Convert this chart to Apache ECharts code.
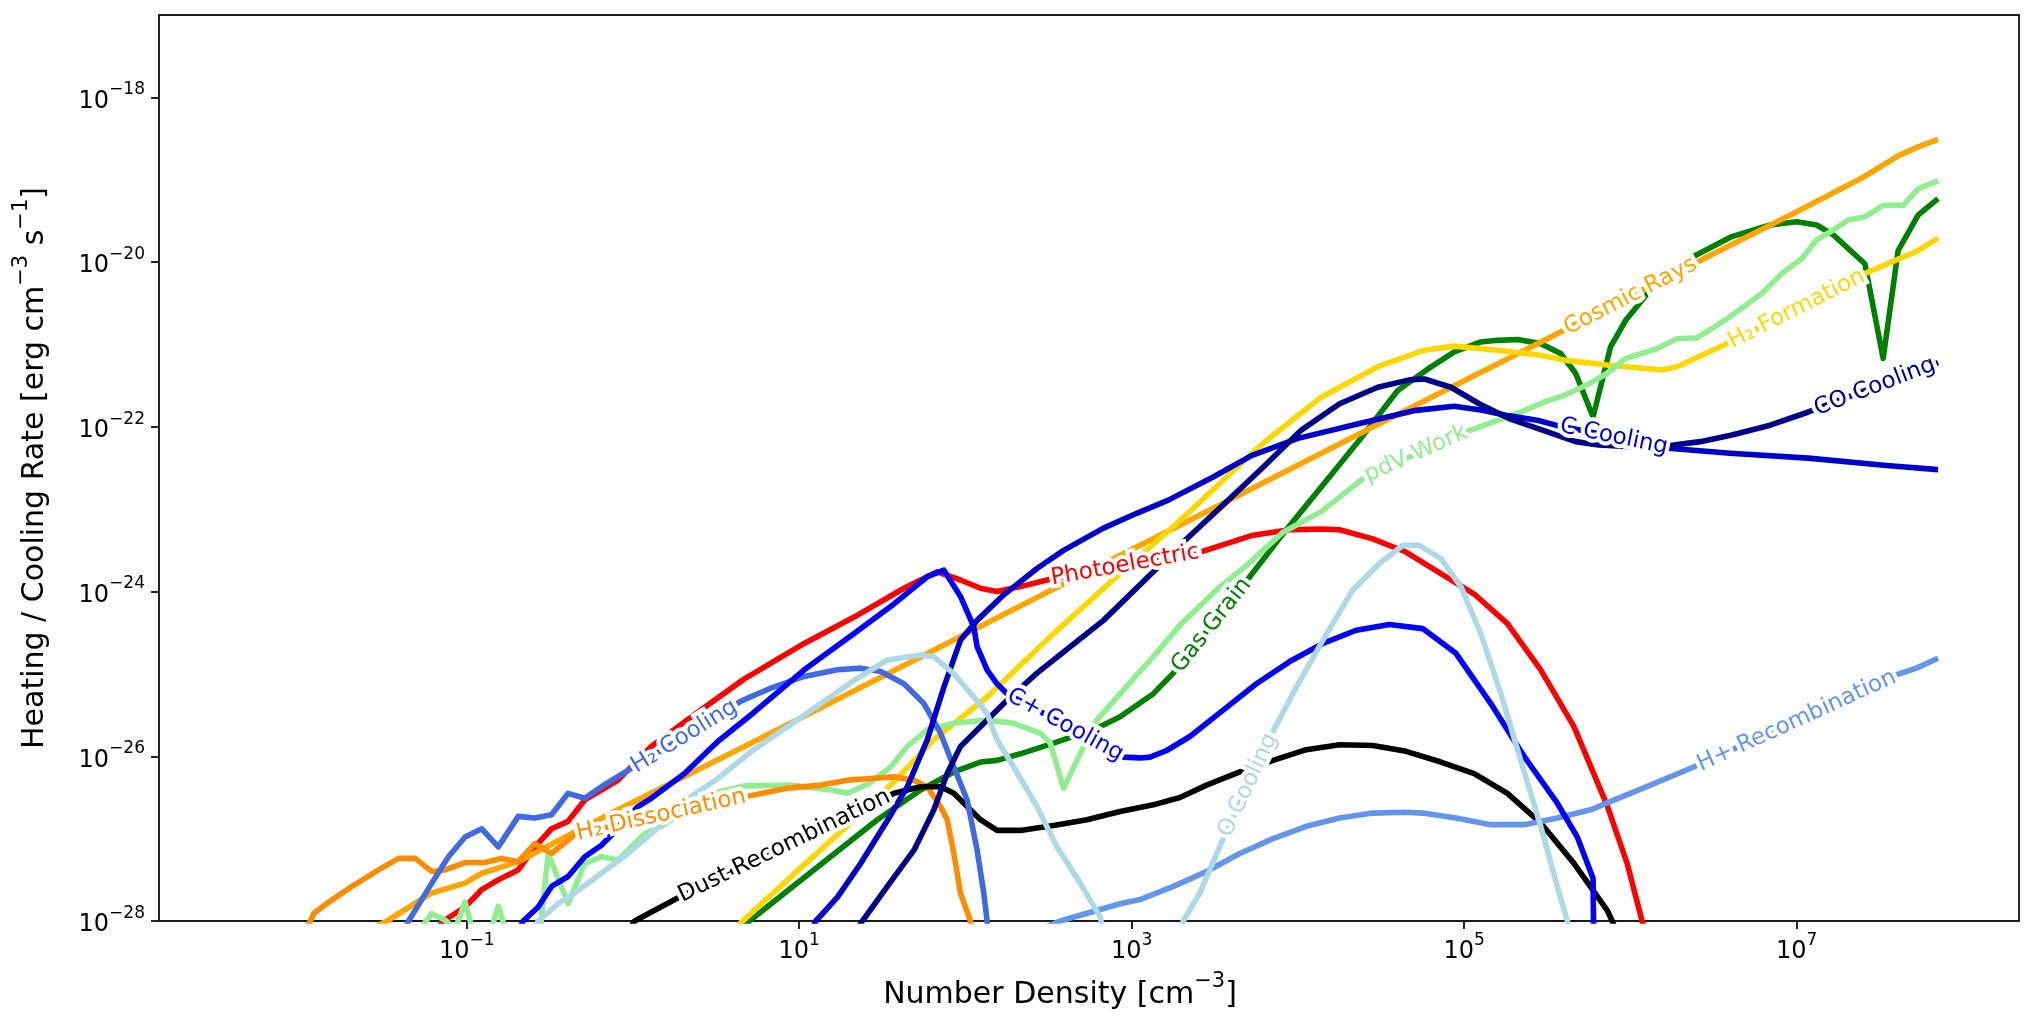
<!DOCTYPE html>
<html>
<head>
<meta charset="utf-8">
<title>Heating / Cooling Rate vs Number Density</title>
<script src="https://cdn.jsdelivr.net/npm/echarts@6/dist/echarts.min.js"></script>
<style>
  html, body { margin: 0; padding: 0; background: #fff; }
  #chart { width: 2034px; height: 1026px; }
</style>
</head>
<body>
<div id="chart"></div>
<script>
// every point is [log10 n (cm^-3), log10 rate (erg cm^-3 s^-1)]
const xTicks = [-1, 1, 3, 5, 7]
const yTicks = [-28, -26, -24, -22, -20, -18]

const gasGrain = [[0.6,-28.2],[0.7,-28.0],[1.0,-27.52],[1.47,-26.77],[1.73,-26.41],[1.93,-26.19],[2.09,-26.07],[2.19,-26.05],[2.33,-25.97],[2.53,-25.84],[2.79,-25.66],[2.93,-25.52],[3.13,-25.24],[3.25,-24.99],[3.48,-24.41],[3.71,-23.82],[3.91,-23.3],[4.14,-22.73],[4.37,-22.16],[4.6,-21.56],[4.78,-21.3],[4.94,-21.09],[5.1,-20.97],[5.2,-20.95],[5.32,-20.94],[5.46,-20.99],[5.58,-21.11],[5.67,-21.35],[5.775,-21.88],[5.88,-21.03],[5.97,-20.71],[6.12,-20.34],[6.37,-19.94],[6.61,-19.69],[6.84,-19.55],[7.0,-19.51],[7.12,-19.55],[7.22,-19.67],[7.41,-20.02],[7.52,-21.17],[7.61,-19.86],[7.73,-19.43],[7.85,-19.23]]

const photoelectric = [[-1.2,-28.15],[-1.14,-28.0],[-1.01,-27.83],[-0.91,-27.62],[-0.81,-27.5],[-0.69,-27.38],[-0.59,-27.1],[-0.49,-26.88],[-0.39,-26.79],[-0.29,-26.53],[-0.19,-26.41],[-0.09,-26.29],[0.11,-25.88],[0.4,-25.45],[0.67,-25.06],[1.03,-24.63],[1.33,-24.31],[1.63,-23.96],[1.83,-23.76],[1.97,-23.86],[2.09,-23.96],[2.19,-24.0],[2.33,-23.94],[2.49,-23.86],[2.8,-23.74],[3.1,-23.63],[3.43,-23.51],[3.72,-23.32],[3.95,-23.25],[4.14,-23.24],[4.25,-23.25],[4.45,-23.36],[4.65,-23.52],[4.85,-23.77],[5.06,-24.03],[5.26,-24.39],[5.46,-24.95],[5.66,-25.64],[5.86,-26.6],[5.98,-27.3],[6.07,-28.0],[6.12,-28.3]]

const cosmicRays = [[-1.6,-28.12],[-1.48,-28.0],[-1.21,-27.66],[-1.01,-27.54],[-0.91,-27.42],[-0.69,-27.28],[-0.37,-26.94],[-0.09,-26.65],[0.67,-25.88],[1.5,-25.03],[2.5,-24.0],[3.5,-22.98],[4.5,-21.95],[5.5,-20.93],[6.5,-19.9],[7.0,-19.39],[7.4,-18.97],[7.61,-18.71],[7.73,-18.6],[7.85,-18.51]]

const h2Formation = [[0.55,-28.2],[0.66,-28.0],[1.0,-27.37],[1.27,-26.88],[1.57,-26.31],[1.81,-25.8],[2.13,-25.28],[2.53,-24.51],[2.93,-23.78],[3.3,-23.12],[3.79,-22.2],[4.14,-21.64],[4.48,-21.27],[4.76,-21.07],[4.94,-21.02],[5.2,-21.07],[5.46,-21.13],[5.6,-21.19],[5.86,-21.25],[6.19,-21.31],[6.28,-21.27],[6.56,-21.01],[7.0,-20.57],[7.43,-20.12],[7.73,-19.86],[7.85,-19.71]]

const pdvWork = [[-1.3,-28.15],[-1.21,-27.91],[-1.13,-27.99],[-1.07,-28.1],[-1.01,-27.77],[-0.96,-28.15],[-0.86,-28.15],[-0.81,-27.82],[-0.76,-28.15],[-0.56,-28.15],[-0.51,-27.18],[-0.39,-27.79],[-0.29,-27.3],[-0.19,-27.22],[-0.09,-27.26],[0.07,-26.94],[0.17,-26.85],[0.4,-26.55],[0.52,-26.43],[0.67,-26.36],[0.95,-26.35],[1.19,-26.41],[1.29,-26.45],[1.42,-26.33],[1.55,-26.13],[1.65,-25.88],[1.77,-25.68],[1.93,-25.6],[2.13,-25.56],[2.29,-25.6],[2.45,-25.72],[2.51,-25.84],[2.59,-26.39],[2.69,-25.97],[2.79,-25.56],[2.93,-25.24],[3.13,-24.79],[3.29,-24.41],[3.51,-23.98],[3.68,-23.7],[3.91,-23.28],[4.14,-23.03],[4.39,-22.63],[4.71,-22.33],[5.04,-22.04],[5.34,-21.82],[5.48,-21.7],[5.6,-21.62],[5.74,-21.49],[5.86,-21.35],[5.97,-21.17],[6.16,-21.05],[6.28,-20.93],[6.4,-20.92],[6.58,-20.69],[6.79,-20.38],[6.91,-20.14],[7.03,-19.96],[7.12,-19.73],[7.22,-19.61],[7.31,-19.49],[7.41,-19.45],[7.52,-19.31],[7.64,-19.31],[7.73,-19.11],[7.85,-19.01]]

const h2Dissociation = [[-2.0,-28.2],[-1.94,-28.0],[-1.92,-27.91],[-1.83,-27.77],[-1.69,-27.58],[-1.53,-27.38],[-1.41,-27.24],[-1.31,-27.24],[-1.21,-27.4],[-1.13,-27.38],[-1.01,-27.29],[-0.89,-27.29],[-0.79,-27.24],[-0.69,-27.28],[-0.59,-27.06],[-0.49,-27.18],[-0.35,-26.95],[0.2,-26.7],[0.68,-26.49],[0.92,-26.39],[1.13,-26.35],[1.29,-26.29],[1.43,-26.27],[1.57,-26.25],[1.69,-26.29],[1.77,-26.37],[1.85,-26.61],[1.89,-26.77],[1.93,-27.18],[1.97,-27.66],[2.03,-28.0],[2.05,-28.3]]

const dustRecombination = [[-0.05,-28.2],[0.01,-28.0],[0.26,-27.73],[0.9,-27.1],[1.57,-26.45],[1.73,-26.37],[1.85,-26.37],[1.93,-26.45],[2.09,-26.77],[2.19,-26.9],[2.33,-26.9],[2.53,-26.84],[2.73,-26.77],[2.93,-26.67],[3.13,-26.59],[3.29,-26.5],[3.45,-26.35],[3.65,-26.19],[3.85,-26.05],[4.05,-25.92],[4.25,-25.86],[4.45,-25.87],[4.65,-25.94],[4.86,-26.07],[5.06,-26.21],[5.26,-26.45],[5.46,-26.81],[5.66,-27.3],[5.86,-27.87],[5.89,-28.0],[5.93,-28.2]]

const hPlusRecombination = [[2.45,-28.1],[2.57,-28.0],[2.93,-27.79],[3.05,-27.74],[3.25,-27.58],[3.45,-27.4],[3.65,-27.18],[3.85,-27.0],[4.05,-26.85],[4.25,-26.75],[4.45,-26.69],[4.65,-26.68],[4.75,-26.69],[4.95,-26.75],[5.16,-26.83],[5.36,-26.83],[5.56,-26.75],[5.76,-26.65],[5.94,-26.5],[6.12,-26.35],[6.38,-26.13],[7.0,-25.57],[7.6,-25.01],[7.72,-24.93],[7.85,-24.81]]

const h2Cooling = [[-1.4,-28.2],[-1.35,-28.0],[-1.21,-27.54],[-1.11,-27.22],[-1.01,-26.98],[-0.91,-26.88],[-0.81,-27.1],[-0.69,-26.73],[-0.59,-26.75],[-0.49,-26.71],[-0.39,-26.45],[-0.29,-26.51],[-0.19,-26.37],[-0.03,-26.17],[0.31,-25.76],[0.65,-25.33],[0.82,-25.18],[1.03,-25.03],[1.23,-24.95],[1.37,-24.93],[1.49,-24.97],[1.63,-25.12],[1.75,-25.36],[1.85,-25.72],[1.93,-26.13],[2.01,-26.53],[2.07,-27.14],[2.11,-27.66],[2.13,-28.0],[2.14,-28.3]]

const cPlusCooling = [[-0.7,-28.15],[-0.66,-28.0],[-0.57,-27.83],[-0.49,-27.58],[-0.39,-27.46],[-0.29,-27.22],[-0.19,-27.08],[-0.13,-26.96],[0.03,-26.61],[0.11,-26.51],[0.31,-26.21],[0.51,-25.82],[0.72,-25.48],[1.03,-24.95],[1.33,-24.51],[1.57,-24.15],[1.77,-23.82],[1.87,-23.74],[1.97,-24.06],[2.05,-24.43],[2.07,-24.67],[2.13,-24.95],[2.19,-25.12],[2.25,-25.24],[2.6,-25.62],[2.95,-26.01],[3.05,-26.02],[3.11,-26.01],[3.21,-25.93],[3.35,-25.76],[3.55,-25.44],[3.75,-25.12],[3.95,-24.85],[4.15,-24.63],[4.35,-24.47],[4.55,-24.4],[4.75,-24.45],[4.95,-24.75],[5.16,-25.36],[5.36,-26.0],[5.56,-26.57],[5.68,-26.98],[5.775,-27.48],[5.78,-28.5]]

const cCooling = [[1.05,-28.2],[1.1,-28.0],[1.23,-27.71],[1.37,-27.3],[1.53,-26.78],[1.65,-26.37],[1.77,-25.8],[1.87,-25.16],[1.97,-24.59],[2.07,-24.35],[2.23,-24.04],[2.43,-23.72],[2.59,-23.5],[2.83,-23.23],[3.03,-23.05],[3.22,-22.89],[3.49,-22.61],[3.72,-22.35],[4.0,-22.14],[4.37,-21.96],[4.71,-21.8],[4.94,-21.75],[5.11,-21.8],[5.25,-21.86],[5.44,-21.92],[5.55,-21.98],[5.9,-22.12],[6.23,-22.26],[6.6,-22.32],[7.07,-22.38],[7.54,-22.47],[7.85,-22.52]]

const coCooling = [[1.3,-28.25],[1.38,-28.0],[1.53,-27.58],[1.69,-27.14],[1.81,-26.65],[1.89,-26.21],[1.97,-25.88],[2.13,-25.56],[2.25,-25.32],[2.43,-24.99],[2.63,-24.67],[2.83,-24.35],[3.13,-23.76],[3.32,-23.38],[3.56,-22.93],[3.79,-22.49],[4.02,-22.04],[4.25,-21.72],[4.48,-21.52],[4.67,-21.43],[4.76,-21.42],[4.92,-21.52],[5.09,-21.72],[5.27,-21.9],[5.44,-22.02],[5.67,-22.18],[5.81,-22.22],[6.0,-22.24],[6.26,-22.22],[6.42,-22.18],[6.61,-22.1],[6.84,-21.98],[7.07,-21.82],[7.45,-21.53],[7.85,-21.22]]

const oCooling = [[-0.62,-28.2],[-0.57,-28.0],[-0.45,-27.79],[-0.35,-27.66],[-0.19,-27.42],[-0.03,-27.18],[0.11,-26.94],[0.35,-26.49],[0.51,-26.27],[0.72,-25.93],[0.93,-25.64],[1.13,-25.36],[1.33,-25.08],[1.53,-24.83],[1.73,-24.77],[1.81,-24.79],[1.93,-25.0],[2.05,-25.28],[2.13,-25.48],[2.19,-25.8],[2.29,-26.13],[2.43,-26.61],[2.55,-27.1],[2.69,-27.54],[2.81,-27.95],[2.85,-28.3],[3.25,-28.3],[3.31,-28.0],[3.41,-27.66],[3.55,-27.0],[3.86,-25.66],[3.99,-25.16],[4.15,-24.59],[4.33,-23.98],[4.49,-23.66],[4.63,-23.44],[4.73,-23.44],[4.86,-23.6],[4.98,-23.94],[5.1,-24.51],[5.22,-25.24],[5.34,-26.05],[5.46,-26.85],[5.56,-27.58],[5.62,-28.0],[5.66,-28.3]]

// drawing order, colours and where each inline label sits (x in log10 n)
const curves = [
  { name: 'Gas Grain', data: gasGrain, color: '#008000', labelAt: 3.48 },
  { name: 'Photoelectric', data: photoelectric, color: '#ff0000', labelAt: 2.96 },
  { name: 'Cosmic Rays', data: cosmicRays, color: '#ffa500', labelAt: 6.0 },
  { name: 'H₂ Formation', data: h2Formation, color: '#ffd700', labelAt: 7.0 },
  { name: 'pdV Work', data: pdvWork, color: '#90ee90', labelAt: 4.71 },
  { name: 'H₂ Dissociation', data: h2Dissociation, color: '#ff8c00', labelAt: 0.17 },
  { name: 'Dust Recombination', data: dustRecombination, color: '#000000', labelAt: 0.91 },
  { name: 'H+ Recombination', data: hPlusRecombination, color: '#6495ed', labelAt: 7.0 },
  { name: 'H₂ Cooling', data: h2Cooling, color: '#4169e1', labelAt: 0.31 },
  { name: 'C+ Cooling', data: cPlusCooling, color: '#0000ff', labelAt: 2.6 },
  { name: 'C Cooling', data: cCooling, color: '#0000cd', labelAt: 5.9 },
  { name: 'CO Cooling', data: coCooling, color: '#00008b', labelAt: 7.47 },
  { name: 'O Cooling', data: oCooling, color: '#add8e6', labelAt: 3.7 }
]

const font = 'DejaVu Sans'
const axisColor = '#1a1a1a'

function pow10(v) {
  const e = v < 0 ? '−' + (-v) : String(v)
  return '{b|10}{s|' + e + '}'
}

const tickRich = {
  b: { fontSize: 24, fontFamily: font, color: '#000', lineHeight: 32, verticalAlign: 'bottom' },
  s: { fontSize: 17, fontFamily: font, color: '#000', lineHeight: 17, verticalAlign: 'top' }
}
const nameRich = {
  n: { fontSize: 30, fontFamily: font, color: '#000', lineHeight: 39, verticalAlign: 'bottom' },
  s: { fontSize: 21, fontFamily: font, color: '#000', lineHeight: 21, verticalAlign: 'top' }
}

function interpY(data, x) {
  for (let i = 1; i < data.length; i++) {
    if (data[i][0] >= x) {
      const [x0, y0] = data[i - 1]
      const [x1, y1] = data[i]
      return y0 + (y1 - y0) * (x - x0) / (x1 - x0)
    }
  }
  return data[data.length - 1][1]
}

const xMin = -2.851, xMax = 8.337
const yMin = -28, yMax = -17.0

const frameLine = { show: true, onZero: false, lineStyle: { color: axisColor, width: 1.9 } }

const option = {
  animation: false,
  backgroundColor: '#fff',
  grid: { left: 159, right: 15, top: 15, bottom: 105 },
  xAxis: [
    {
      type: 'value', min: xMin, max: xMax, position: 'bottom',
      axisLine: frameLine,
      axisTick: { show: true, customValues: xTicks, length: 8, lineStyle: { color: axisColor, width: 1.9 } },
      axisLabel: { customValues: xTicks, formatter: pow10, margin: 11, rich: tickRich },
      splitLine: { show: false },
      name: '{n|Number Density [cm}{s|−3}{n|]}',
      nameLocation: 'middle', nameGap: 50,
      nameTextStyle: { rich: nameRich, padding: [0, 58, 0, 0] }
    },
    {
      type: 'value', min: xMin, max: xMax, position: 'top',
      axisLine: frameLine, axisTick: { show: false }, axisLabel: { show: false }, splitLine: { show: false }
    }
  ],
  yAxis: [
    {
      type: 'value', min: yMin, max: yMax, position: 'left',
      axisLine: frameLine,
      axisTick: { show: true, customValues: yTicks, length: 8, lineStyle: { color: axisColor, width: 1.9 } },
      axisLabel: { customValues: yTicks, formatter: pow10, margin: 14, rich: tickRich },
      splitLine: { show: false },
      name: '{n|Heating / Cooling Rate [erg cm}{s|−3}{n| s}{s|−1}{n|]}',
      nameLocation: 'middle', nameGap: 109, nameRotate: 90,
      nameTextStyle: { rich: nameRich }
    },
    {
      type: 'value', min: yMin, max: yMax, position: 'right',
      axisLine: frameLine, axisTick: { show: false }, axisLabel: { show: false }, splitLine: { show: false }
    }
  ],
  series: curves.map(c => ({
    name: c.name,
    type: 'line',
    xAxisIndex: 0,
    yAxisIndex: 0,
    data: c.data,
    symbol: 'none',
    silent: true,
    clip: true,
    lineStyle: { color: c.color, width: 5.6, join: 'round' },
    itemStyle: { color: c.color },
    emphasis: { disabled: true }
  }))
}

const chart = echarts.init(document.getElementById('chart'), null, { renderer: 'canvas' })
chart.setOption(option)

// inline labels, rotated along the local slope of each curve
const marks = curves.map((c, i) => {
  const x = c.labelAt
  const y = interpY(c.data, x)
  const d = 0.08
  const p0 = chart.convertToPixel({ seriesIndex: i }, [x - d, interpY(c.data, x - d)])
  const p1 = chart.convertToPixel({ seriesIndex: i }, [x + d, interpY(c.data, x + d)])
  const angle = -Math.atan2(p1[1] - p0[1], p1[0] - p0[0]) * 180 / Math.PI
  return {
    markPoint: {
      symbol: 'circle',
      symbolSize: 1,
      silent: true,
      animation: false,
      itemStyle: { color: 'rgba(0,0,0,0)' },
      label: {
        show: true,
        position: 'inside',
        formatter: c.name,
        rotate: angle,
        color: c.color,
        fontSize: 23,
        fontFamily: font,
        textBorderColor: '#fff',
        textBorderWidth: 8
      },
      data: [{ coord: [x, y] }]
    }
  }
})
chart.setOption({ series: marks })
</script>
</body>
</html>
